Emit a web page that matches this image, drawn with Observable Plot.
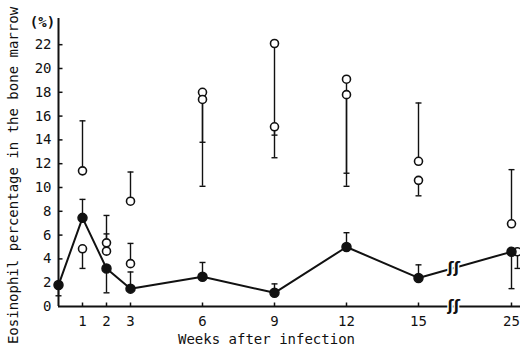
<!DOCTYPE html>
<html><head><meta charset="utf-8">
<script src="https://cdn.jsdelivr.net/npm/d3@7"></script>
<script src="https://cdn.jsdelivr.net/npm/@observablehq/plot@0.6"></script>
<style>
body{margin:0;background:#fff;}
#chart{width:520px;height:346px;}
svg{font-family:"DejaVu Sans Mono",monospace;}
</style></head><body><div id="chart"></div>
<script>
// Filled points (mean line) with their SD bars
const weeks = [0, 1, 2, 3, 6, 9, 12, 15, 25];
const meanValues = [1.8, 7.45, 3.2, 1.5, 2.5, 1.15, 5.0, 2.4, 4.6];
const meanBarEnds = [0.9, 9.0, 1.15, 2.9, 3.7, 1.9, 6.2, 3.5, 1.5];
// Open circles, two per week, with their SD bars
const openWeeks = [1, 2, 3, 6, 9, 12, 15, 25];
const groupA = [11.4, 5.35, 8.85, 18.0, 22.1, 19.1, 12.2, 6.95];
const groupABarEnds = [15.6, 7.65, 11.3, 10.1, 14.4, 11.2, 17.1, 11.5];
const groupB = [4.85, 4.65, 3.6, 17.4, 15.1, 17.8, 10.6, 4.6];
const groupBBarEnds = [3.2, 6.1, 5.3, 13.8, 12.5, 10.1, 9.3, 3.2];
// Axes
const xTicks = [1, 2, 3, 6, 9, 12, 15, 25];
const yTicks = [0, 2, 4, 6, 8, 10, 12, 14, 16, 18, 20, 22];
const axisBreakWeek = 18.8;
const xTitle = "Weeks after infection";
const yTitle = "Eosinophil percentage in the bone marrow";
const yUnit = "(%)";

const meanData = weeks.map((w, i) => ({week: w, value: meanValues[i], end: meanBarEnds[i]}));
const aData = openWeeks.map((w, i) => ({week: w, value: groupA[i], end: groupABarEnds[i]}));
const bData = openWeeks.map((w, i) => ({week: w, value: groupB[i], end: groupBBarEnds[i]}));
const lastWeek = weeks[weeks.length - 1];
const bMain = bData.filter(d => d.week !== lastWeek);
const bShift = bData.filter(d => d.week === lastWeek);

// break point on the mean line (interpolated from data)
const i15 = weeks.indexOf(15), i25 = weeks.indexOf(25);
const tB = (axisBreakWeek - 15) / (25 - 15);
const breakData = [
  {week: axisBreakWeek, value: 0},
  {week: axisBreakWeek, value: meanValues[i15] + tB * (meanValues[i25] - meanValues[i15])}
];

// broken time axis: weeks after 15 are compressed
const breakAt = 15, compress = 0.3875;
const weekPos = w => (w <= breakAt ? w : breakAt + (w - breakAt) * compress);

const cap = {draw(ctx) { ctx.moveTo(-3, 0); ctx.lineTo(3, 0); }};
const yTickSym = {draw(ctx) { ctx.moveTo(0, 0); ctx.lineTo(4, 0); }};
const xTickSym = {draw(ctx) { ctx.moveTo(0, 0); ctx.lineTo(0, -4); }};

function bars(data, opts = {}) {
  return [
    Plot.ruleX(data, {x: "week", y1: "value", y2: "end", stroke: "#111", strokeWidth: 1.4, ...opts}),
    Plot.dot(data, {x: "week", y: "end", symbol: cap, r: 3, stroke: "#111", fill: "none", strokeWidth: 1.4, ...opts})
  ];
}

const chart = Plot.plot({
  width: 520,
  height: 346,
  marginLeft: 58,
  marginRight: 0,
  marginTop: 18,
  marginBottom: 40,
  style: {fontFamily: "DejaVu Sans Mono, monospace", fontSize: "14px", color: "#111", background: "#fff"},
  x: {type: "linear", transform: weekPos, domain: [0, 19.25]},
  y: {domain: [0, 24.2]},
  marks: [
    Plot.axisY(yTicks, {tickSize: 0, tickPadding: 7, fontSize: 14, label: null}),
    Plot.axisX(xTicks, {tickSize: 0, tickPadding: 10, fontSize: 14, label: null}),
    Plot.ruleY([0], {stroke: "#111", strokeWidth: 2}),
    Plot.ruleX([0], {stroke: "#111", strokeWidth: 2}),
    Plot.dot(yTicks.slice(1), {x: 0, y: d => d, symbol: yTickSym, r: 3, stroke: "#111", strokeWidth: 1.5}),
    Plot.dot(xTicks, {x: d => d, y: 0, symbol: xTickSym, r: 3, stroke: "#111", strokeWidth: 1.5}),
    ...bars(meanData),
    ...bars(aData),
    ...bars(bMain),
    ...bars(bShift, {dx: 6}),
    Plot.line(meanData, {x: "week", y: "value", stroke: "#111", strokeWidth: 2}),
    Plot.text(breakData, {x: "week", y: "value", text: () => "ʃʃ", fontSize: 15, fontWeight: "bold",
      fill: "#111", stroke: "white", strokeWidth: 3, paintOrder: "stroke", fontFamily: "DejaVu Sans"}),
    Plot.dot(aData, {x: "week", y: "value", r: 4, fill: "white", stroke: "#111", strokeWidth: 1.6}),
    Plot.dot(bMain, {x: "week", y: "value", r: 4, fill: "white", stroke: "#111", strokeWidth: 1.6}),
    Plot.dot(bShift, {x: "week", y: "value", r: 4, fill: "white", stroke: "#111", strokeWidth: 1.6, dx: 6}),
    Plot.dot(meanData, {x: "week", y: "value", r: 4.5, fill: "#111", stroke: "#111"}),
    Plot.text([yTitle], {frameAnchor: "left", textAnchor: "middle", lineAnchor: "middle", rotate: -90, dx: -45, dy: 13, fontSize: 14, fill: "#111"}),
    Plot.text([xTitle], {frameAnchor: "bottom", textAnchor: "middle", lineAnchor: "middle", dx: -23, dy: 33, fontSize: 14, fill: "#111"}),
    Plot.text([yUnit], {frameAnchor: "top-left", textAnchor: "middle", lineAnchor: "middle", dx: -16, dy: 4, fontSize: 14, fontWeight: "bold", fill: "#111"})
  ]
});
document.getElementById("chart").appendChild(chart);
</script>
</body></html>
